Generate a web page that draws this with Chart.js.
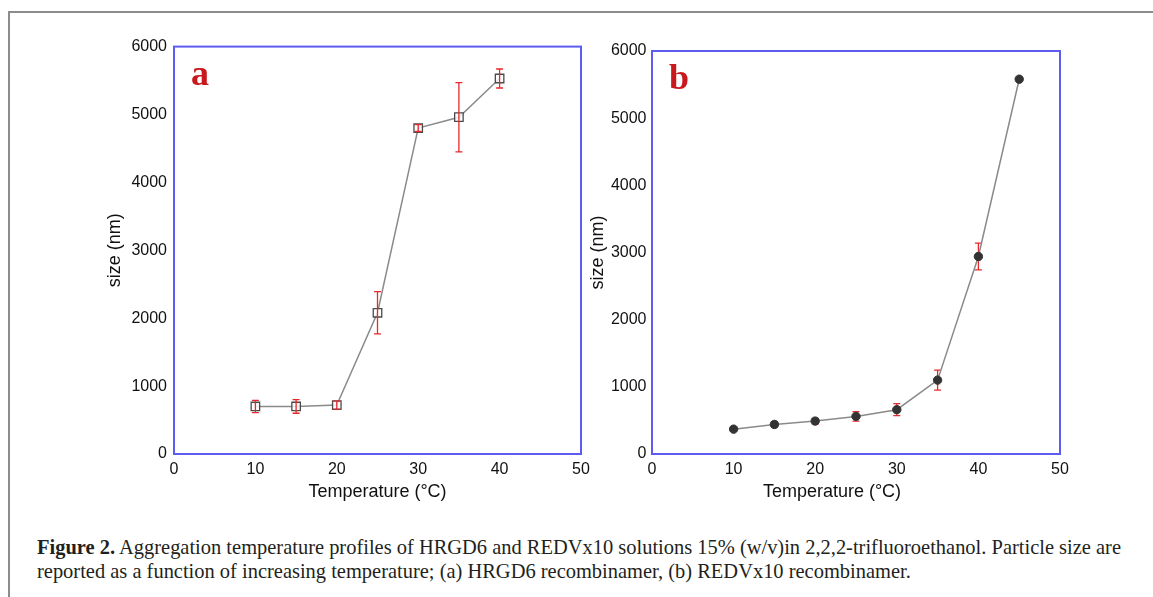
<!DOCTYPE html>
<html>
<head>
<meta charset="utf-8">
<title>Figure 2</title>
<script src="https://cdn.jsdelivr.net/npm/chart.js@4.4.0/dist/chart.umd.min.js"></script>
<style>
    body { margin: 0; background: #fff; width: 1153px; height: 597px; overflow: hidden; position: relative; }
    #frame { position: absolute; left: 8px; top: 11px; width: 1200px; height: 700px; border-left: 2px solid #8c8c8c; border-top: 2px solid #8c8c8c; }
    #chartA { position: absolute; left: 90px; top: 30px; }
    #chartB { position: absolute; left: 570px; top: 30px; }
    #caption { position: absolute; left: 37px; top: 535px; font-family: "Liberation Serif", "DejaVu Serif", serif; font-size: 17px; line-height: 24px; color: #231f20; white-space: nowrap; }
</style>
</head>
<body>
<div id="frame"></div>
<canvas id="chartA" width="510" height="490"></canvas>
<canvas id="chartB" width="520" height="490"></canvas>
<div id="caption"><span id="line1"><b>Figure 2.</b> Aggregation temperature profiles of HRGD6 and REDVx10 solutions 15% (w/v)in 2,2,2-trifluoroethanol. Particle size are</span><br>reported as a function of increasing temperature; (a) HRGD6 recombinamer, (b) REDVx10 recombinamer.</div>

<script>
// Panel (a): HRGD6
const tempA = [10, 15, 20, 25, 30, 35, 40];
const sizeA = [700, 700, 720, 2080, 4800, 4960, 5530];
const errA = [90, 100, 60, 310, 50, 510, 140];

// Panel (b): REDVx10
const tempB = [10, 15, 20, 25, 30, 35, 40, 45];
const sizeB = [370, 440, 490, 560, 660, 1100, 2940, 5580];
const errB = [20, 40, 40, 70, 90, 150, 200, 0];

// Ejes
const xRange = [0, 50];
const xStep = 10;
const yRange = [0, 6000];
const yStep = 1000;
const xTitle = 'Temperature (°C)';
const yTitle = 'size (nm)';

// Barras de error, marco azul, título del eje x y letra del panel
const panelPlugin = {
    id: 'panelPlugin',
    beforeDatasetsDraw(chart, args, opts) {
        if (!opts.errorsOnTop) drawErrors(chart, opts.errors);
    },
    afterDatasetsDraw(chart, args, opts) {
        if (opts.errorsOnTop) drawErrors(chart, opts.errors);
    },
    afterDraw(chart, args, opts) {
        const ctx = chart.ctx;
        const { left, top, right, bottom } = chart.chartArea;
        ctx.save();
        ctx.strokeStyle = '#5c5cf0';
        ctx.lineWidth = 2;
        ctx.strokeRect(left, top, right - left, bottom - top);
        ctx.fillStyle = '#c8191e';
        ctx.font = 'bold 36px "Liberation Serif", serif';
        ctx.textBaseline = 'alphabetic';
        ctx.textAlign = 'left';
        ctx.fillText(opts.letter, left + 17, top + 38);
        // título del eje x (en la figura b no está centrado)
        ctx.fillStyle = '#111';
        ctx.font = '18px "Liberation Sans", Arial, sans-serif';
        ctx.textAlign = 'center';
        ctx.textBaseline = 'middle';
        ctx.fillText(xTitle, (left + right) / 2 + opts.xTitleShift, bottom + 38);
        ctx.restore();
    }
};

function drawErrors(chart, errors) {
    const ctx = chart.ctx;
    const xs = chart.scales.x;
    const ys = chart.scales.y;
    const points = chart.data.datasets[0].data;
    ctx.save();
    ctx.strokeStyle = '#e8282c';
    ctx.lineWidth = 1.3;
    errors.forEach((e, i) => {
        if (!e) return;
        const x = xs.getPixelForValue(points[i].x);
        const y1 = ys.getPixelForValue(points[i].y + e);
        const y2 = ys.getPixelForValue(points[i].y - e);
        ctx.beginPath();
        ctx.moveTo(x, y1); ctx.lineTo(x, y2);
        ctx.moveTo(x - 3.5, y1); ctx.lineTo(x + 3.5, y1);
        ctx.moveTo(x - 3.5, y2); ctx.lineTo(x + 3.5, y2);
        ctx.stroke();
    });
    ctx.restore();
}

function buildScales(yWidth, yTitlePad, yTickPad) {
    return {
        x: {
            type: 'linear', min: xRange[0], max: xRange[1],
            ticks: { stepSize: xStep, padding: 6, color: '#111', font: { size: 16 }, callback: v => String(v) },
            grid: { display: false, drawTicks: false },
            border: { display: false },
            title: { display: false },
            afterFit(scale) { scale.height = 66; }
        },
        y: {
            type: 'linear', min: yRange[0], max: yRange[1],
            ticks: { stepSize: yStep, padding: yTickPad, color: '#111', font: { size: 16 }, callback: v => String(v) },
            grid: { display: false, drawTicks: false },
            border: { display: false },
            title: { display: true, text: yTitle, color: '#111', font: { size: 18 }, padding: { top: yTitlePad, bottom: 0 } },
            afterFit(scale) { scale.width = yWidth; }
        }
    };
}

function toPoints(xs, ys) {
    return xs.map((x, i) => ({ x: x, y: ys[i] }));
}

Chart.defaults.font.family = '"Liberation Sans", Arial, sans-serif';

// Gráfico (a)
new Chart(document.getElementById('chartA'), {
    type: 'line',
    data: {
        datasets: [{
            data: toPoints(tempA, sizeA),
            borderColor: '#8a8a8a',
            borderWidth: 1.5,
            pointStyle: 'rect',
            pointRadius: 6,
            pointBorderColor: '#4a4a4a',
            pointBorderWidth: 1.3,
            pointBackgroundColor: 'rgba(255,255,255,0.8)',
            tension: 0
        }]
    },
    options: {
        responsive: false,
        animation: false,
        devicePixelRatio: 1,
        layout: { padding: { top: 16, right: 19, left: 0, bottom: 0 } },
        scales: buildScales(84, 14.2, 7),
        plugins: {
            legend: { display: false },
            tooltip: { enabled: false },
            panelPlugin: { letter: 'a', errors: errA, errorsOnTop: true, xTitleShift: 0 }
        }
    },
    plugins: [panelPlugin]
});

// Gráfico (b)
new Chart(document.getElementById('chartB'), {
    type: 'line',
    data: {
        datasets: [{
            data: toPoints(tempB, sizeB),
            borderColor: '#8a8a8a',
            borderWidth: 1.5,
            pointStyle: 'circle',
            pointRadius: 4.2,
            pointBorderColor: '#333',
            pointBorderWidth: 1,
            pointBackgroundColor: '#333',
            tension: 0
        }]
    },
    options: {
        responsive: false,
        animation: false,
        devicePixelRatio: 1,
        layout: { padding: { top: 21, right: 30, left: 0, bottom: 0 } },
        scales: buildScales(82, 17.2, 5.5),
        plugins: {
            legend: { display: false },
            tooltip: { enabled: false },
            panelPlugin: { letter: 'b', errors: errB, errorsOnTop: false, xTitleShift: -24 }
        }
    },
    plugins: [panelPlugin]
});

// Ajustar el tamaño del pie de figura al ancho de la referencia
const line1 = document.getElementById('line1');
const caption = document.getElementById('caption');
const w = line1.getBoundingClientRect().width;
caption.style.fontSize = (17 * 1085 / w).toFixed(2) + 'px';
</script>
</body>
</html>
